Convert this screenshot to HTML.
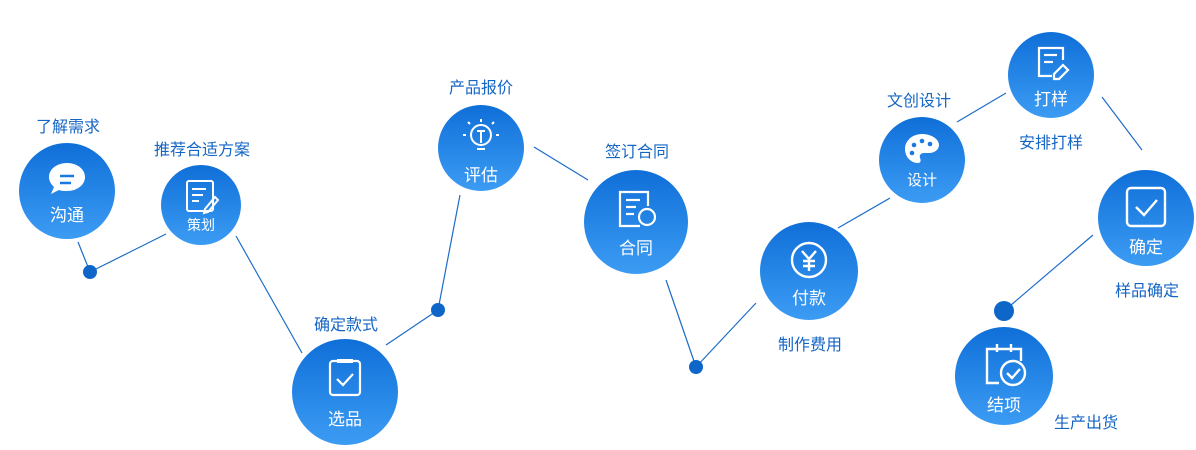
<!DOCTYPE html>
<html><head><meta charset="utf-8"><style>
body{margin:0;width:1196px;height:450px;background:#fff;position:relative;overflow:hidden;font-family:"Liberation Sans","Noto Sans CJK SC",sans-serif}
.c{position:absolute;border-radius:50%;background:linear-gradient(180deg,#0f6fd8 0%,#2a8ae9 60%,#3c9cf3 100%);color:#fff;text-align:center}
.c span{position:absolute;left:0;right:0;font-size:17px}
.l{position:absolute;color:#1566c4;font-size:16px;transform:translateX(-50%);white-space:nowrap}
svg{position:absolute;left:0;top:0}
</style></head><body>
<svg width="1196" height="450">
<g stroke="#1c6cc8" stroke-width="1.2" fill="none">
<line x1="78" y1="242" x2="90" y2="272"/><line x1="90" y1="272" x2="166" y2="234"/>
<line x1="236" y1="236" x2="302" y2="353"/><line x1="386" y1="345" x2="438" y2="310"/>
<line x1="438" y1="310" x2="460" y2="195"/><line x1="534" y1="147" x2="588" y2="180"/>
<line x1="666" y1="280" x2="696" y2="367"/><line x1="696" y1="367" x2="756" y2="303"/>
<line x1="838" y1="228" x2="890" y2="198"/><line x1="957" y1="122" x2="1006" y2="93"/>
<line x1="1102" y1="97" x2="1142" y2="150"/><line x1="1093" y1="235" x2="1004" y2="311"/>
</g>
<g fill="#0e66c8"><circle cx="90" cy="272" r="7"/><circle cx="438" cy="310" r="7"/><circle cx="696" cy="367" r="7"/><circle cx="1004" cy="311" r="10"/></g>
</svg>
<div class="c" style="left:19px;top:143px;width:96px;height:96px"><svg width="96" height="96"><path d="M67 20c-10 0-18 6-18 14 0 4 2 7 5 10l-3 7 8-4c3 1 5 1 8 1 10 0 18-6 18-14s-8-14-18-14z" fill="#fff" transform="translate(-19,0)"/><line x1="41" y1="33" x2="55" y2="33" stroke="#1a78de" stroke-width="2.5"/><line x1="41" y1="40" x2="52" y2="40" stroke="#1a78de" stroke-width="2.5"/></svg><span style="top:58px">沟通</span></div>
<div class="c" style="left:161px;top:165px;width:80px;height:80px"><svg width="80" height="80" fill="none" stroke="#fff" stroke-width="2"><rect x="26" y="16" width="26" height="30" rx="2"/><line x1="31" y1="24" x2="45" y2="24"/><line x1="31" y1="30" x2="42" y2="30"/><line x1="31" y1="36" x2="38" y2="36"/><path d="M44 44l10-12 3 3-10 12-4 1z"/></svg><span style="top:50px;font-size:14px">策划</span></div>
<div class="c" style="left:292px;top:339px;width:106px;height:106px"><svg width="106" height="106" fill="none" stroke="#fff" stroke-width="2.2"><rect x="38" y="22" width="30" height="34" rx="3"/><line x1="45" y1="22" x2="61" y2="22" stroke-width="4"/><path d="M45 40l6 6 10-11"/></svg><span style="top:66px">选品</span></div>
<div class="c" style="left:438px;top:105px;width:86px;height:86px"><svg width="86" height="86" fill="none" stroke="#fff" stroke-width="2"><circle cx="43" cy="30" r="10"/><line x1="39" y1="44" x2="47" y2="44"/><line x1="39" y1="26" x2="47" y2="26"/><line x1="43" y1="26" x2="43" y2="38"/><line x1="43" y1="14" x2="43" y2="17"/><line x1="28" y1="30" x2="25" y2="30"/><line x1="58" y1="30" x2="61" y2="30"/><line x1="32" y1="19" x2="30" y2="17"/><line x1="54" y1="19" x2="56" y2="17"/></svg><span style="top:56px">评估</span></div>
<div class="c" style="left:584px;top:170px;width:104px;height:104px"><svg width="104" height="104" fill="none" stroke="#fff" stroke-width="2.2"><path d="M56 56H36V22h28v14"/><line x1="42" y1="30" x2="56" y2="30"/><line x1="42" y1="37" x2="52" y2="37"/><line x1="42" y1="44" x2="50" y2="44"/><circle cx="63" cy="47" r="8"/></svg><span style="top:64px">合同</span></div>
<div class="c" style="left:760px;top:222px;width:98px;height:98px"><svg width="98" height="98" fill="none" stroke="#fff" stroke-width="2.4"><circle cx="49" cy="38" r="17"/><path d="M42 29l7 8 7-8M49 37v12M43 39h12M43 44h12"/></svg><span style="top:62px">付款</span></div>
<div class="c" style="left:879px;top:117px;width:86px;height:86px"><svg width="86" height="86"><path d="M43 17c-10 0-17 7-17 15 0 8 6 14 13 14 3 0 3-3 2-5-1-3 1-5 4-5h5c5 0 10-3 10-8 0-6-8-11-17-11z" fill="#fff"/><g fill="#1a78de"><circle cx="35" cy="28" r="2.3"/><circle cx="43" cy="24" r="2.3"/><circle cx="51" cy="27" r="2.3"/><circle cx="33" cy="36" r="2.3"/></g></svg><span style="top:52px;font-size:15px">设计</span></div>
<div class="c" style="left:1008px;top:32px;width:86px;height:86px"><svg width="86" height="86" fill="none" stroke="#fff" stroke-width="2.2"><path d="M44 44H31V16h24v12"/><line x1="36" y1="23" x2="49" y2="23"/><line x1="36" y1="30" x2="45" y2="30"/><path d="M46 42l9-9 5 5-9 9h-5z"/></svg><span style="top:53px">打样</span></div>
<div class="c" style="left:1098px;top:170px;width:96px;height:96px"><svg width="96" height="96" fill="none" stroke="#fff" stroke-width="2.4"><rect x="29" y="18" width="38" height="38" rx="4"/><path d="M38 37l8 8 13-15"/></svg><span style="top:63px">确定</span></div>
<div class="c" style="left:955px;top:327px;width:98px;height:98px"><svg width="98" height="98" fill="none" stroke="#fff" stroke-width="2.4"><path d="M44 56H32V22h34v12"/><line x1="42" y1="17" x2="42" y2="25"/><line x1="56" y1="17" x2="56" y2="25"/><circle cx="58" cy="46" r="12"/><path d="M52 46l5 5 8-9"/></svg><span style="top:64px">结项</span></div>
<div class="l" style="left:68px;top:113px">了解需求</div>
<div class="l" style="left:202px;top:136px">推荐合适方案</div>
<div class="l" style="left:346px;top:311px">确定款式</div>
<div class="l" style="left:481px;top:74px">产品报价</div>
<div class="l" style="left:637px;top:138px">签订合同</div>
<div class="l" style="left:810px;top:331px">制作费用</div>
<div class="l" style="left:919px;top:87px">文创设计</div>
<div class="l" style="left:1051px;top:129px">安排打样</div>
<div class="l" style="left:1147px;top:277px">样品确定</div>
<div class="l" style="left:1086px;top:409px">生产出货</div>
</body></html>
